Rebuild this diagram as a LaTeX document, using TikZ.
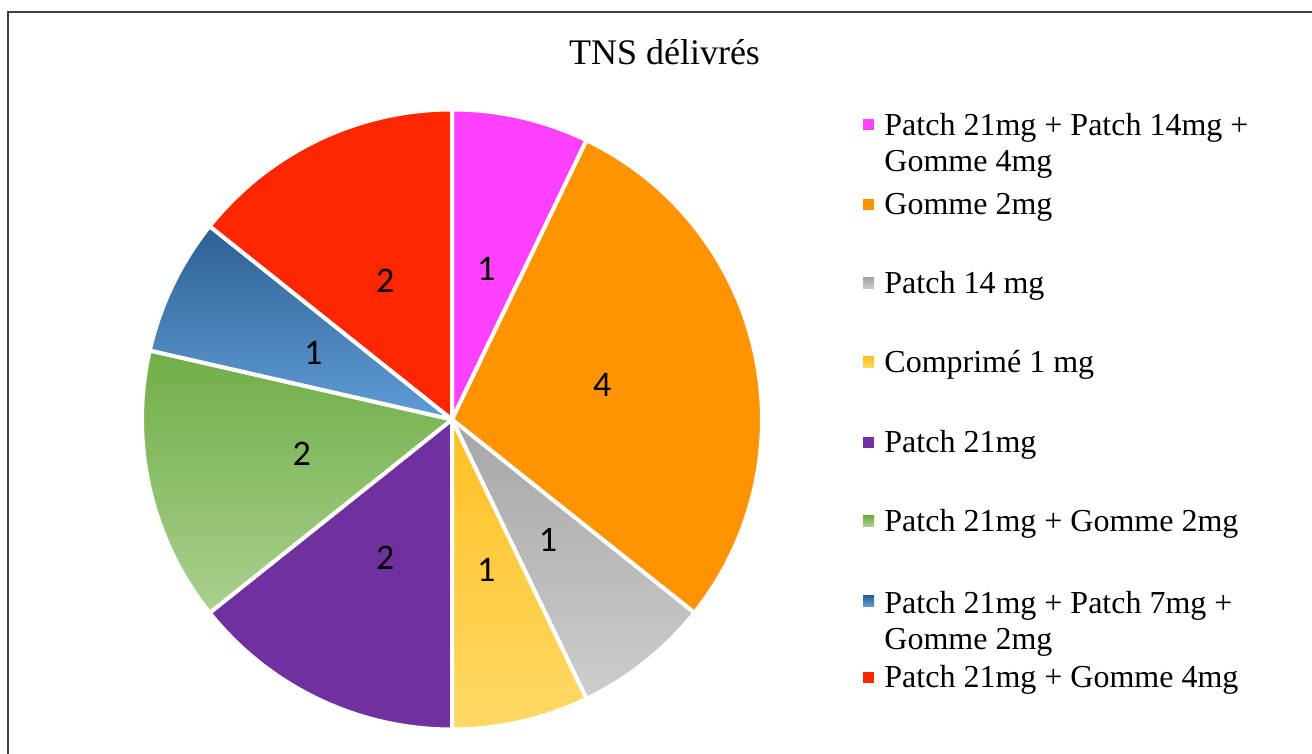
\documentclass[tikz,border=0pt]{standalone}
\usepackage{fontspec}
\setmainfont{Liberation Serif}
\newfontfamily\valfont{Carlito}
\definecolor{pinkS}{HTML}{FF40FF}
\definecolor{orangeS}{HTML}{FF9300}
\definecolor{grayTop}{HTML}{A6A6A6}
\definecolor{grayBot}{HTML}{CDCDCD}
\definecolor{yellowTop}{HTML}{FFC022}
\definecolor{yellowBot}{HTML}{FFD966}
\definecolor{purpleS}{HTML}{7030A0}
\definecolor{greenTop}{HTML}{70AD47}
\definecolor{greenBot}{HTML}{A9D18E}
\definecolor{blueTop}{HTML}{2E6194}
\definecolor{blueBot}{HTML}{5F9DD6}
\definecolor{redS}{HTML}{FF2600}
\begin{document}
\begin{tikzpicture}[x=0.5pt, y=0.5pt,
    slice/.style={draw=white, line width=2pt, line join=round},
    val/.style={inner sep=0pt, font=\valfont\fontsize{18}{21}\selectfont},
    legbox/.style={minimum size=5.5pt, inner sep=0pt},
    legtext/.style={anchor=base west, inner sep=0pt, align=left, font=\fontsize{16}{18.3}\selectfont}]
    \useasboundingbox (0, 0) rectangle (1312, 754);
    \clip (0, 0) rectangle (1312, 754);
    \draw[line width=1pt, black!75] (7.5, -10) -- (7.5, 742.3) -- (1330, 742.3);

    \node (title) [anchor=base, inner sep=0pt, font=\fontsize{18}{21}\selectfont] at (664.5, 689) {TNS délivrés};

    % pie, 14 in all, clockwise from the top
    \coordinate (O) at (452, 334.5);
    \path[slice, fill=pinkS] (O) -- ++(90:310) arc[start angle=90, end angle=64.2857, radius=310] -- cycle;
    \path[slice, fill=orangeS] (O) -- ++(64.2857:310) arc[start angle=64.2857, end angle=-38.5714, radius=310] -- cycle;
    \path[slice, top color=grayTop, bottom color=grayBot] (O) -- ++(-38.5714:310) arc[start angle=-38.5714, end angle=-64.2857, radius=310] -- cycle;
    \path[slice, top color=yellowTop, bottom color=yellowBot] (O) -- ++(-64.2857:310) arc[start angle=-64.2857, end angle=-90, radius=310] -- cycle;
    \path[slice, fill=purpleS] (O) -- ++(-90:310) arc[start angle=-90, end angle=-141.4286, radius=310] -- cycle;
    \path[slice, top color=greenTop, bottom color=greenBot] (O) -- ++(-141.4286:310) arc[start angle=-141.4286, end angle=-192.8571, radius=310] -- cycle;
    \path[slice, top color=blueTop, bottom color=blueBot] (O) -- ++(-192.8571:310) arc[start angle=-192.8571, end angle=-218.5714, radius=310] -- cycle;
    \path[slice, fill=redS] (O) -- ++(-218.5714:310) arc[start angle=-218.5714, end angle=-270, radius=310] -- cycle;

    \node (vPink) [val] at ([shift={(77.14:154)}]O) {1};
    \node (vOrange) [val] at ([shift={(12.86:154)}]O) {4};
    \node (vGray) [val] at ([shift={(-51.43:154)}]O) {1};
    \node (vYellow) [val] at ([shift={(-77.14:154)}]O) {1};
    \node (vPurple) [val] at ([shift={(-115.71:154)}]O) {2};
    \node (vGreen) [val] at ([shift={(-167.14:154)}]O) {2};
    \node (vBlue) [val] at ([shift={(-205.71:154)}]O) {1};
    \node (vRed) [val] at ([shift={(-244.29:154)}]O) {2};

    % legend
    \node (kPink) [legbox, fill=pinkS] at (868.5, 629.5) {};
    \node (kOrange) [legbox, fill=orangeS] at (868.5, 549.5) {};
    \node (kGray) [legbox, top color=grayTop, bottom color=grayBot] at (868.5, 470.5) {};
    \node (kYellow) [legbox, top color=yellowTop, bottom color=yellowBot] at (868.5, 391.5) {};
    \node (kPurple) [legbox, fill=purpleS] at (868.5, 311.5) {};
    \node (kGreen) [legbox, top color=greenTop, bottom color=greenBot] at (868.5, 232.8) {};
    \node (kBlue) [legbox, top color=blueTop, bottom color=blueBot] at (868.5, 152.8) {};
    \node (kRed) [legbox, fill=redS] at (868.5, 76.5) {};

    % base of a two-line entry is its last line
    \node (tPink) [legtext] at (884, 582.3) {Patch 21mg + Patch 14mg +\\Gomme 4mg};
    \node (tOrange) [legtext] at (884, 539) {Gomme 2mg};
    \node (tGray) [legtext] at (884, 460) {Patch 14 mg};
    \node (tYellow) [legtext] at (884, 381) {Comprimé 1 mg};
    \node (tPurple) [legtext] at (884, 301) {Patch 21mg};
    \node (tGreen) [legtext] at (884, 222.3) {Patch 21mg + Gomme 2mg};
    \node (tBlue) [legtext] at (884, 104) {Patch 21mg + Patch 7mg +\\Gomme 2mg};
    \node (tRed) [legtext] at (884, 66) {Patch 21mg + Gomme 4mg};
\end{tikzpicture}
\end{document}
